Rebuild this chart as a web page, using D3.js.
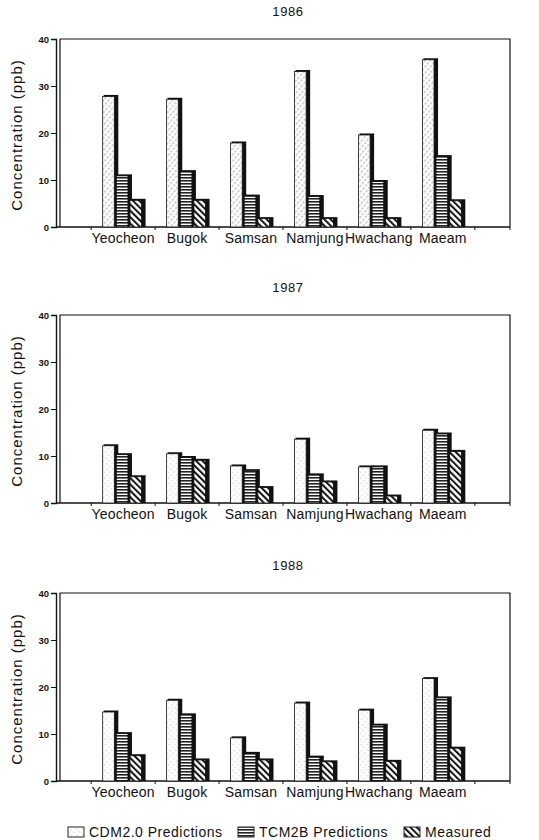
<!DOCTYPE html>
<html lang="en">
<head>
<meta charset="UTF-8">
<title>Concentration 1986-1988</title>
<script src="https://d3js.org/d3.v7.min.js"></script>
<style>
  body { margin: 0; background: #fff; }
  text { font-family: "Liberation Sans", Arial, sans-serif; fill: #111; }
</style>
</head>
<body>
<script>
// data
const categories = ["Yeocheon", "Bugok", "Samsan", "Namjung", "Hwachang", "Maeam"];
const seriesNames = ["CDM2.0 Predictions", "TCM2B Predictions", "Measured"];
const years = ["1986", "1987", "1988"];
const yTicks = [0, 10, 20, 30, 40];

const cdm1986 = [28.1, 27.5, 18.2, 33.4, 19.9, 35.9];
const tcm1986 = [11.2, 12.1, 6.9, 6.8, 10.0, 15.3];
const meas1986 = [6.0, 6.0, 2.1, 2.1, 2.1, 5.9];

const cdm1987 = [12.5, 10.8, 8.2, 13.9, 8.0, 15.8];
const tcm1987 = [10.6, 10.0, 7.2, 6.3, 8.0, 15.0];
const meas1987 = [5.9, 9.4, 3.6, 4.8, 1.8, 11.3];

const cdm1988 = [15.0, 17.5, 9.5, 16.9, 15.4, 22.1];
const tcm1988 = [10.4, 14.4, 6.2, 5.4, 12.2, 18.0];
const meas1988 = [5.7, 4.8, 4.8, 4.4, 4.5, 7.3];

const panelData = [
  [cdm1986, tcm1986, meas1986],
  [cdm1987, tcm1987, meas1987],
  [cdm1988, tcm1988, meas1988]
];

const W = 539, H = 840;
const left = 56, right = 510, plotH = 188;
const panelTops = [39, 315, 593];

const svg = d3.select("body").append("svg")
  .attr("width", W).attr("height", H);

// fill patterns
const defs = svg.append("defs");
function hatchCdm(id, dash, color) {
  defs.append("pattern").attr("id", id)
    .attr("patternUnits", "userSpaceOnUse").attr("width", 4).attr("height", 4)
    .attr("patternTransform", "rotate(40)")
    .call(p => {
      p.append("rect").attr("width", 4).attr("height", 4).attr("fill", "#fff");
      p.append("line").attr("x1", 1).attr("y1", 0).attr("x2", 1).attr("y2", 4)
        .attr("stroke", color).attr("stroke-width", 0.7).attr("stroke-dasharray", dash);
    });
}
hatchCdm("pCdm", "2.5,1.5", "#777");
hatchCdm("pCdmLight", "1.5,6.5", "#aaa");
defs.append("pattern").attr("id", "pTcm")
  .attr("patternUnits", "userSpaceOnUse").attr("width", 4).attr("height", 3)
  .call(p => {
    p.append("rect").attr("width", 4).attr("height", 3).attr("fill", "#fff");
    p.append("rect").attr("y", 0).attr("width", 4).attr("height", 1.6).attr("fill", "#222");
  });
defs.append("pattern").attr("id", "pMeas")
  .attr("patternUnits", "userSpaceOnUse").attr("width", 4.5).attr("height", 4.5)
  .attr("patternTransform", "rotate(-45)")
  .call(p => {
    p.append("rect").attr("width", 4.5).attr("height", 4.5).attr("fill", "#fff");
    p.append("rect").attr("x", 0).attr("width", 2).attr("height", 4.5).attr("fill", "#111");
  });

const x0 = d3.scaleBand().domain(categories).range([left, right])
  .paddingInner(0.36).paddingOuter(0.73);
const x1 = d3.scaleBand().domain(d3.range(3)).range([0, x0.bandwidth()]);

panelData.forEach((vals, pi) => {
  const top = panelTops[pi];
  const y = d3.scaleLinear().domain([0, 40]).range([top + plotH, top]);
  const g = svg.append("g");
  const patIds = [pi === 0 ? "pCdm" : "pCdmLight", "pTcm", "pMeas"];

  // title
  g.append("text").attr("x", 288).attr("y", top - 23)
    .attr("text-anchor", "middle").attr("font-size", 13)
    .attr("letter-spacing", 0.6).text(years[pi]);

  // frame
  g.append("path")
    .attr("d", `M${left + 4},${y(0)}V${top}H${right}V${y(0)}`)
    .attr("fill", "none").attr("stroke", "#111").attr("stroke-width", 1.2);

  // y axis
  const ya = g.append("g").attr("transform", `translate(${left},0)`)
    .call(d3.axisLeft(y).tickValues(yTicks).tickSize(5).tickPadding(2));
  ya.select(".domain").attr("stroke", "#111").attr("stroke-width", 1.4);
  ya.selectAll(".tick line").attr("stroke", "#111");
  ya.selectAll(".tick text").attr("font-size", 9.5).attr("font-weight", "bold")
    .attr("font-family", "Liberation Sans, Arial, sans-serif").attr("fill", "#111");

  // x baseline with ticks at band boundaries
  const xa = g.append("g").attr("transform", `translate(0,${y(0)})`);
  xa.append("line").attr("x1", left).attr("x2", right)
    .attr("stroke", "#111").attr("stroke-width", 1.4);
  const bounds = categories.map(c => x0(c) - x0.step() * x0.paddingInner() / 2)
    .concat([x0(categories[5]) + x0.bandwidth() + x0.step() * x0.paddingInner() / 2, right]);
  xa.selectAll("line.tk").data(bounds).join("line").attr("class", "tk")
    .attr("x1", d => d).attr("x2", d => d).attr("y1", 0).attr("y2", 3)
    .attr("stroke", "#111");
  xa.selectAll("text").data(categories).join("text")
    .attr("x", d => x0(d) + x0.bandwidth() / 2).attr("y", 16)
    .attr("text-anchor", "middle").attr("font-size", 14)
    .attr("letter-spacing", 0.2).text(d => d);

  // y label
  g.append("text")
    .attr("transform", `translate(22,${top + plotH / 2 + 2}) rotate(-90)`)
    .attr("text-anchor", "middle").attr("font-size", 15)
    .attr("letter-spacing", 1).text("Concentration (ppb)");

  // bars: shadow + patterned face
  const groups = g.selectAll("g.grp").data(categories).join("g").attr("class", "grp")
    .attr("transform", d => `translate(${x0(d)},0)`);
  groups.each(function (c, ci) {
    const gg = d3.select(this);
    const items = [0, 1, 2].map(s => ({ s, v: vals[s][ci] }));
    items.forEach(d => {
      const bw = x1.bandwidth();
      gg.append("rect")
        .attr("x", x1(d.s) + 1).attr("y", y(d.v))
        .attr("width", bw + 1).attr("height", y(0) - y(d.v))
        .attr("fill", "#111");
      gg.append("rect")
        .attr("x", x1(d.s)).attr("y", y(d.v) + 1.5)
        .attr("width", bw - 2).attr("height", y(0) - y(d.v) - 1.5)
        .attr("fill", `url(#${patIds[d.s]})`)
        .attr("stroke", "#111").attr("stroke-width", 0.8);
    });
  });
});

// legend
const legPat = ["pCdmLight", "pTcm", "pMeas"];
const legend = svg.append("g").attr("transform", "translate(0,832)");
const legX = [68, 238, 404];
seriesNames.forEach((name, i) => {
  legend.append("rect").attr("x", legX[i]).attr("y", -5).attr("width", 16).attr("height", 10)
    .attr("fill", `url(#${legPat[i]})`).attr("stroke", "#111").attr("stroke-width", 0.9);
  legend.append("text").attr("x", legX[i] + 21).attr("y", 5)
    .attr("font-size", 14).attr("letter-spacing", 0.5).text(name);
});
</script>
</body>
</html>
